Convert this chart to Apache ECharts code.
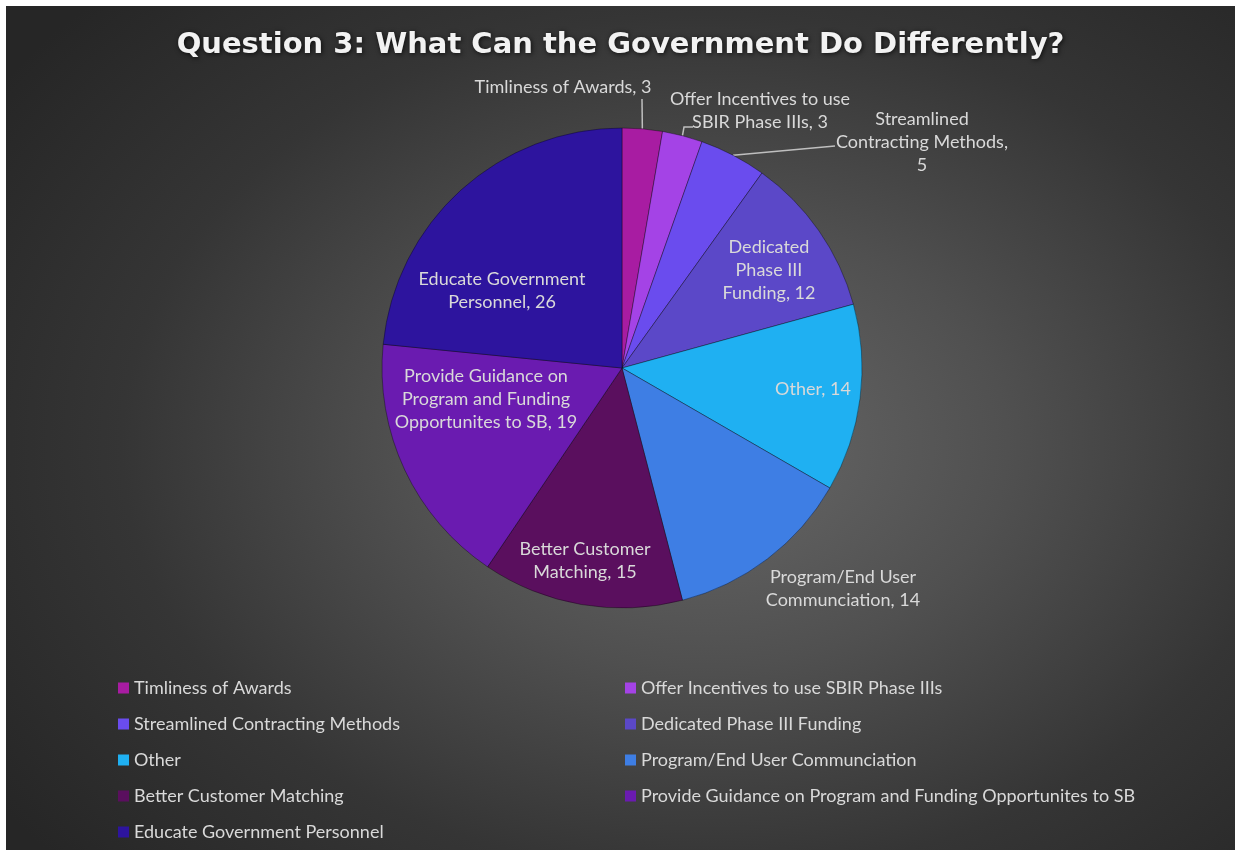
<!DOCTYPE html>
<html>
<head>
<meta charset="utf-8">
<title>Question 3: What Can the Government Do Differently?</title>
<script src="https://cdn.jsdelivr.net/npm/echarts@6/dist/echarts.min.js"></script>
<style>
  html, body { margin: 0; padding: 0; background: #ffffff; }
  #chart {
    position: absolute; left: 6px; top: 6px; width: 1229px; height: 844px;
    background: radial-gradient(ellipse 70% 75% at 57% 52%, #686868 0%, #505050 35%, #353535 68%, #262626 100%);
  }
</style>
</head>
<body>
<div id="chart"></div>
<script>
// Survey answers, in the order the slices run clockwise from 12 o'clock
const categories = [
  'Timliness of Awards',
  'Offer Incentives to use SBIR Phase IIIs',
  'Streamlined Contracting Methods',
  'Dedicated Phase III Funding',
  'Other',
  'Program/End User Communciation',
  'Better Customer Matching',
  'Provide Guidance on Program and Funding Opportunites to SB',
  'Educate Government Personnel'
];
const counts = [3, 3, 5, 12, 14, 14, 15, 19, 26];

// Wrapped data-label text; {c} is filled in with the count
const labelTemplates = [
  'Timliness of Awards, {c}',
  'Offer Incentives to use\nSBIR Phase IIIs, {c}',
  'Streamlined\nContracting Methods,\n{c}',
  'Dedicated\nPhase III\nFunding, {c}',
  'Other, {c}',
  'Program/End User\nCommunciation, {c}',
  'Better Customer\nMatching, {c}',
  'Provide Guidance on\nProgram and Funding\nOpportunites to SB, {c}',
  'Educate Government\nPersonnel, {c}'
];

// Slice fills
const sliceColors = [
  '#a81ca2', '#a443e6', '#6a4cee', '#5b48c8', '#1fb0f2',
  '#3e7ee4', '#5a0f5e', '#6a1bb0', '#2d149e'
];

// Pie geometry (pixels inside the chart box)
const pieCenter = [616, 362];
const pieRadius = 240;

// Where each data label sits, and the bend points of its leader line
const labelSpots = [
  { x: 557, y: 81,  line: [[636, 93]] },
  { x: 754, y: 105, line: [[678, 121], [687, 121]] },
  { x: 916, y: 136, line: [[829, 140]] },
  { x: 763, y: 264 },
  { x: 807, y: 383 },
  { x: 837, y: 583 },
  { x: 579, y: 555 },
  { x: 480, y: 393 },
  { x: 496, y: 285 }
];

const total = counts.reduce((a, b) => a + b, 0);
// Point on the rim at the middle of slice i
function rimPoint(i) {
  let before = 0;
  for (let k = 0; k < i; k++) before += counts[k];
  const ang = (before + counts[i] / 2) / total * 2 * Math.PI;
  return [pieCenter[0] + pieRadius * Math.sin(ang), pieCenter[1] - pieRadius * Math.cos(ang)];
}

const labelFont = 'Lato, "Open Sans", sans-serif';
const labelColor = '#d9d9d9';

const seriesData = categories.map((name, i) => ({
  name: name,
  value: counts[i],
  itemStyle: { color: sliceColors[i] },
  label: { formatter: labelTemplates[i] },
  labelLine: { show: !!labelSpots[i].line }
}));

const leftNames = categories.filter((_, i) => i % 2 === 0);
const rightNames = categories.filter((_, i) => i % 2 === 1);

const legendBase = {
  orient: 'vertical',
  top: 673,
  height: 200,
  padding: 0,
  itemWidth: 11,
  itemHeight: 11,
  itemGap: 18,
  icon: 'rect',
  itemStyle: { borderWidth: 0 },
  textStyle: { color: labelColor, fontFamily: labelFont, fontSize: 18, lineHeight: 17 }
};

const chart = echarts.init(document.getElementById('chart'), null, { renderer: 'canvas' });
chart.setOption({
  backgroundColor: 'transparent',
  animation: false,
  title: {
    text: 'Question 3: What Can the Government Do Differently?',
    left: 'center',
    top: 20,
    textStyle: {
      color: '#f2f2f2',
      fontFamily: '"DejaVu Sans", sans-serif',
      fontWeight: 'bold',
      fontSize: 29,
      textShadowColor: 'rgba(0,0,0,0.75)',
      textShadowBlur: 5,
      textShadowOffsetX: 1,
      textShadowOffsetY: 1
    }
  },
  legend: [
    Object.assign({}, legendBase, { left: 112, data: leftNames }),
    Object.assign({}, legendBase, { left: 619, data: rightNames })
  ],
  series: [{
    type: 'pie',
    center: pieCenter,
    radius: [0, pieRadius],
    startAngle: 90,
    clockwise: true,
    avoidLabelOverlap: false,
    data: seriesData,
    itemStyle: { borderColor: 'rgba(0,0,0,0.35)', borderWidth: 1 },
    label: {
      show: true,
      position: 'outside',
      color: labelColor,
      fontFamily: labelFont,
      fontSize: 18,
      lineHeight: 23,
      align: 'center'
    },
    labelLine: {
      show: true,
      length: 20,
      length2: 0,
      lineStyle: { color: '#bfbfbf', width: 1.5 }
    },
    labelLayout: function (params) {
      const spot = labelSpots[params.dataIndex];
      const out = { x: spot.x, y: spot.y, align: 'center', verticalAlign: 'middle' };
      if (spot.line) out.labelLinePoints = [rimPoint(params.dataIndex)].concat(spot.line);
      return out;
    },
    emphasis: { disabled: true }
  }]
});
</script>
</body>
</html>
